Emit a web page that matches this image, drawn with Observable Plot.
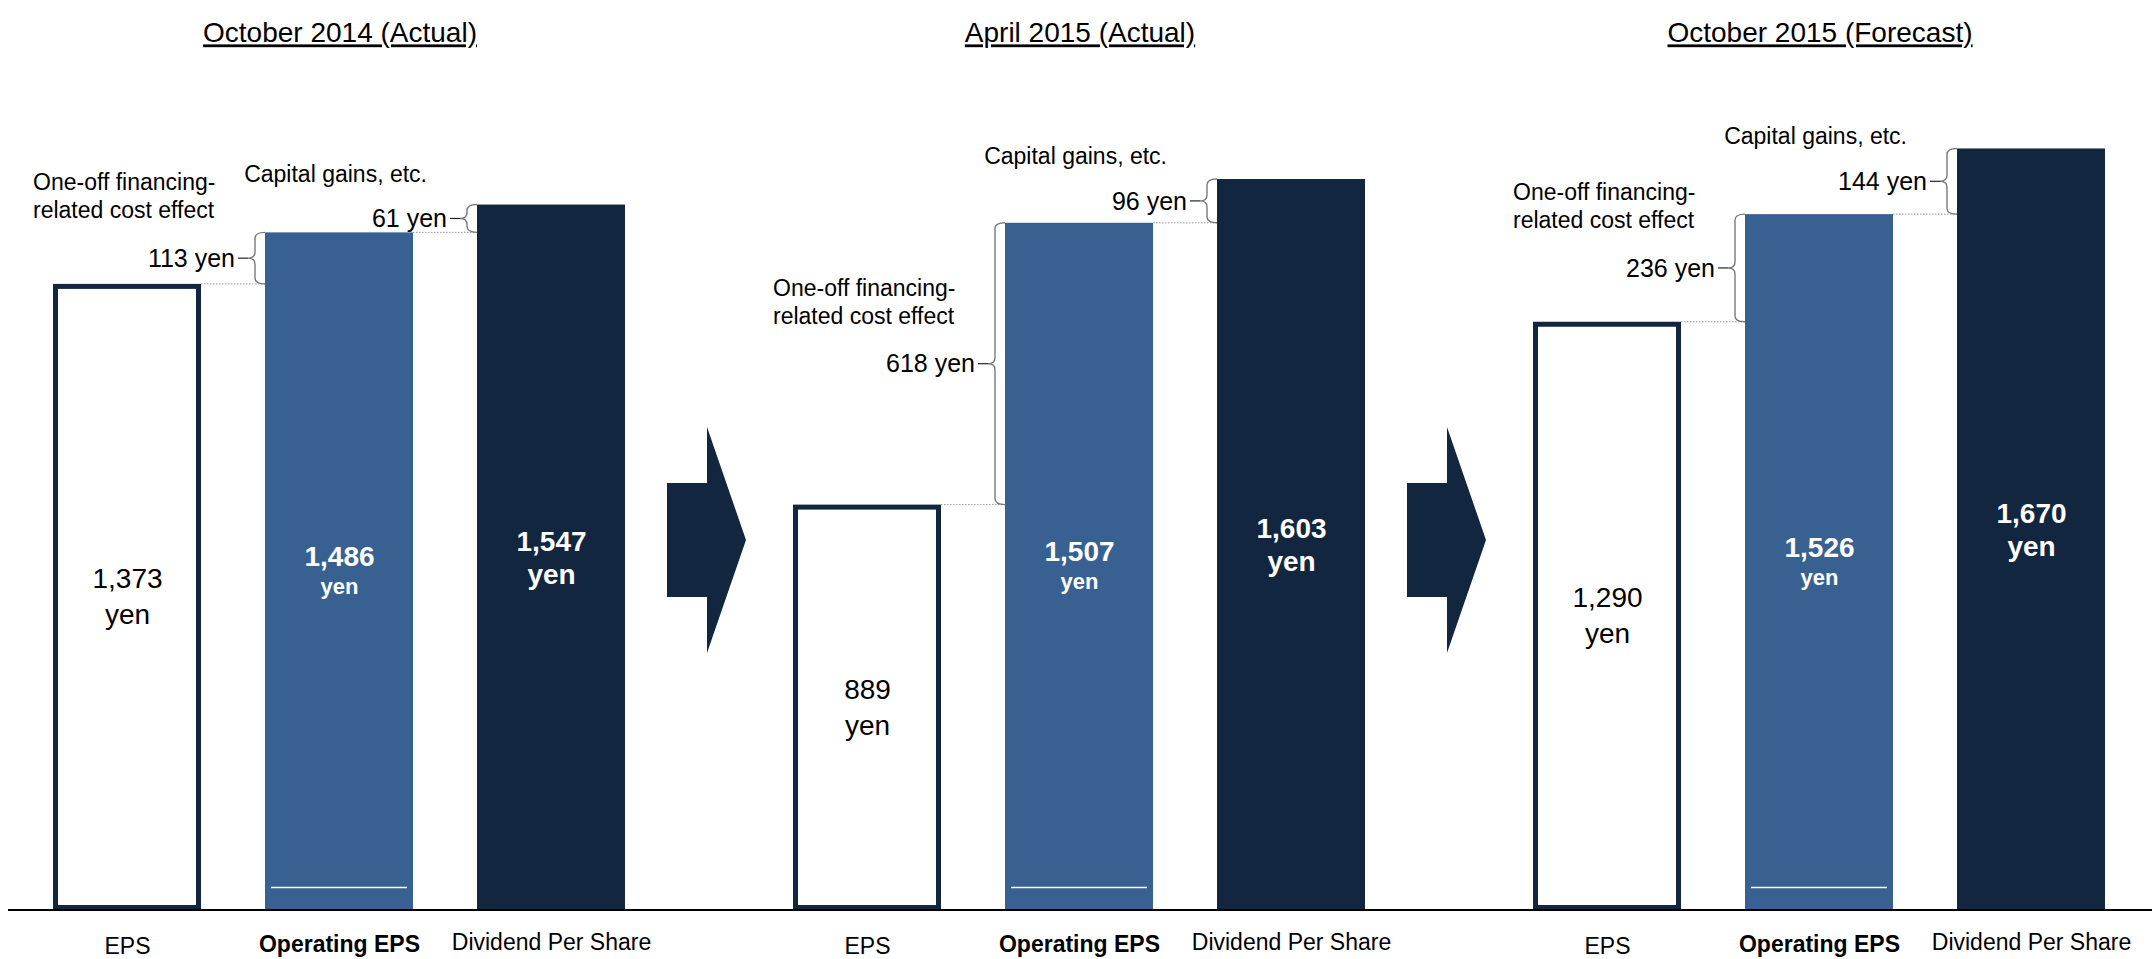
<!DOCTYPE html>
<html>
<head>
<meta charset="utf-8">
<script src="https://cdn.jsdelivr.net/npm/d3@7"></script>
<script src="https://cdn.jsdelivr.net/npm/@observablehq/plot@0.6"></script>
<style>
  html, body { margin: 0; padding: 0; background: #fff; overflow: hidden; }
  #chart svg { display: block; }
</style>
</head>
<body>
<div id="chart"></div>
<script>
// Per-share figures (yen) for each reporting period
const panels = ["October 2014 (Actual)", "April 2015 (Actual)", "October 2015 (Forecast)"];
const measures = ["EPS", "Operating EPS", "Dividend Per Share"];
const eps = [1373, 889, 1290];
const operatingEps = [1486, 1507, 1526];
const dividendPerShare = [1547, 1603, 1670];
// Bridging amounts shown with braces
const financingEffect = [113, 618, 236];
const capitalGains = [61, 96, 144];
const financingNote = ["One-off financing-", "related cost effect"];
const capitalNote = "Capital gains, etc.";

const navy = "#13263f";
const blue = "#386192";
const font = "'Liberation Sans', Arial, Helvetica, sans-serif";
const fmt = d3.format(",");

const rows = panels.flatMap((panel, i) => [
  {panel, measure: measures[0], value: eps[i]},
  {panel, measure: measures[1], value: operatingEps[i]},
  {panel, measure: measures[2], value: dividendPerShare[i]}
]);
const epsRows = rows.filter(d => d.measure === measures[0]);
const opRows = rows.filter(d => d.measure === measures[1]);
const dpsRows = rows.filter(d => d.measure === measures[2]);

const braces = panels.flatMap((panel, i) => [
  {panel, lower: measures[0], upper: measures[1], lo: eps[i], amount: financingEffect[i], kind: "financing"},
  {panel, lower: measures[1], upper: measures[2], lo: operatingEps[i], amount: capitalGains[i], kind: "capital"}
]);
const arrows = panels.slice(0, -1).map(panel => ({panel, from: measures[measures.length - 1]}));

// Curly brace spanning the step between two bars, with its dotted connector and labels
function drawBraces(index, scales) {
  const g = d3.create("svg:g");
  const bw = scales.x.bandwidth();
  for (const i of index) {
    const d = braces[i];
    const xr = scales.x(d.upper);
    const xl = scales.x(d.lower) + bw;
    const yB = scales.y(d.lo);
    const yT = scales.y(d.lo + d.amount);
    const ym = (yB + yT) / 2;
    g.append("line")
      .attr("x1", xl).attr("x2", xr).attr("y1", yB).attr("y2", yB)
      .attr("stroke", "#9a9a9a").attr("stroke-width", 1).attr("stroke-dasharray", "1.5,1.5");
    const xv = xr - 10, xt = xv - 7, r = Math.min(6, (yB - yT) / 4);
    const p = d3.path();
    p.moveTo(xr, yT);
    p.quadraticCurveTo(xv, yT, xv, yT + r);
    p.lineTo(xv, ym - r);
    p.quadraticCurveTo(xv, ym, xt, ym);
    p.quadraticCurveTo(xv, ym, xv, ym + r);
    p.lineTo(xv, yB - r);
    p.quadraticCurveTo(xv, yB, xr, yB);
    g.append("path").attr("d", p.toString())
      .attr("fill", "none").attr("stroke", "#7a7a7a").attr("stroke-width", 1.4);
    g.append("line")
      .attr("x1", xt - 10).attr("x2", xt).attr("y1", ym).attr("y2", ym)
      .attr("stroke", "#222").attr("stroke-width", 1.2);
    g.append("text")
      .attr("x", xt - 13).attr("y", ym).attr("dy", "0.35em")
      .attr("text-anchor", "end").attr("font-size", 25).attr("fill", "#000")
      .text(`${d.amount} yen`);
    if (d.kind === "capital") {
      g.append("text")
        .attr("x", xr - 50).attr("y", ym - 45).attr("dy", "0.35em")
        .attr("text-anchor", "end").attr("font-size", 23).attr("fill", "#000")
        .text(capitalNote);
    } else {
      financingNote.forEach((line, k) => {
        g.append("text")
          .attr("x", xr - 232).attr("y", ym - 76 + k * 28).attr("dy", "0.35em")
          .attr("text-anchor", "start").attr("font-size", 23).attr("fill", "#000")
          .text(line);
      });
    }
  }
  return g.node();
}

// Block arrow pointing to the next period
function drawArrows(index, scales) {
  const g = d3.create("svg:g");
  const bw = scales.x.bandwidth();
  for (const i of index) {
    const d = arrows[i];
    const x0 = scales.x(d.from) + bw + 42, xn = x0 + 40, xt = xn + 39;
    const cy = scales.y(0) - 370;
    const pts = [[x0, cy - 57], [xn, cy - 57], [xn, cy - 113], [xt, cy], [xn, cy + 113], [xn, cy + 57], [x0, cy + 57]];
    g.append("polygon").attr("points", pts.map(q => q.join(",")).join(" ")).attr("fill", navy);
  }
  return g.node();
}

function underline(index, scales, values, dimensions, context, next) {
  const node = next(index, scales, values, dimensions, context);
  node.querySelectorAll("text").forEach(t => t.style.textDecoration = "underline");
  return node;
}

const W = 2152;
const chart = Plot.plot({
  width: W,
  height: 959,
  marginTop: 60,
  marginBottom: 49,
  marginLeft: 52,
  marginRight: 45,
  style: {fontFamily: font, background: "white", color: "#000"},
  fx: {domain: panels, paddingInner: 0.223, paddingOuter: 0, axis: null},
  x: {domain: measures, paddingInner: 0.3, paddingOuter: 0, axis: null},
  y: {domain: [0, 1864], axis: null},
  marks: [
    Plot.barY(epsRows, {fx: "panel", x: "measure", y: "value", fill: "white", stroke: navy, strokeWidth: 5, inset: 2.5}),
    Plot.barY(opRows, {fx: "panel", x: "measure", y: "value", fill: blue}),
    Plot.barY(dpsRows, {fx: "panel", x: "measure", y: "value", fill: navy}),
    Plot.tickY(opRows, {fx: "panel", x: "measure", y: () => 0, dy: -23, stroke: "white", strokeWidth: 1.5, insetLeft: 6, insetRight: 6}),

    // values inside the bars
    Plot.text(epsRows, {fx: "panel", x: "measure", y: d => d.value / 2, text: d => fmt(d.value), dy: -18, fontSize: 28, fill: "#000"}),
    Plot.text(epsRows, {fx: "panel", x: "measure", y: d => d.value / 2, text: () => "yen", dy: 18, fontSize: 28, fill: "#000"}),
    Plot.text(opRows, {fx: "panel", x: "measure", y: d => d.value / 2, text: d => fmt(d.value), dy: -15, fontSize: 28, fontWeight: "bold", fill: "white"}),
    Plot.text(opRows, {fx: "panel", x: "measure", y: d => d.value / 2, text: () => "yen", dy: 15, fontSize: 22, fontWeight: "bold", fill: "white"}),
    Plot.text(dpsRows, {fx: "panel", x: "measure", y: d => d.value / 2, text: d => fmt(d.value), dy: -16, fontSize: 28, fontWeight: "bold", fill: "white"}),
    Plot.text(dpsRows, {fx: "panel", x: "measure", y: d => d.value / 2, text: () => "yen", dy: 17, fontSize: 28, fontWeight: "bold", fill: "white"}),

    // category labels under the baseline
    Plot.text(epsRows, {fx: "panel", x: "measure", y: () => 0, text: "measure", dy: 36, fontSize: 23, fill: "#000"}),
    Plot.text(opRows, {fx: "panel", x: "measure", y: () => 0, text: "measure", dy: 34, fontSize: 23, fontWeight: "bold", fill: "#000"}),
    Plot.text(dpsRows, {fx: "panel", x: "measure", y: () => 0, text: "measure", dy: 32, fontSize: 23, fill: "#000"}),

    // period titles
    Plot.text(panels, {fx: d => d, text: d => d, frameAnchor: "top", dy: -38, fontSize: 28, fill: "#000", render: underline}),

    Plot.dot(braces, {fx: "panel", x: "upper", y: "lo", render: drawBraces}),
    Plot.dot(arrows, {fx: "panel", x: "from", y: () => 0, render: drawArrows})
  ]
});

// One continuous baseline at zero, spanning all three periods
const y0 = chart.scale("y").apply(0);
d3.select(chart).append("line")
  .attr("x1", 8).attr("x2", W)
  .attr("y1", y0).attr("y2", y0)
  .attr("stroke", "#000").attr("stroke-width", 2);

document.getElementById("chart").appendChild(chart);
</script>
</body>
</html>
